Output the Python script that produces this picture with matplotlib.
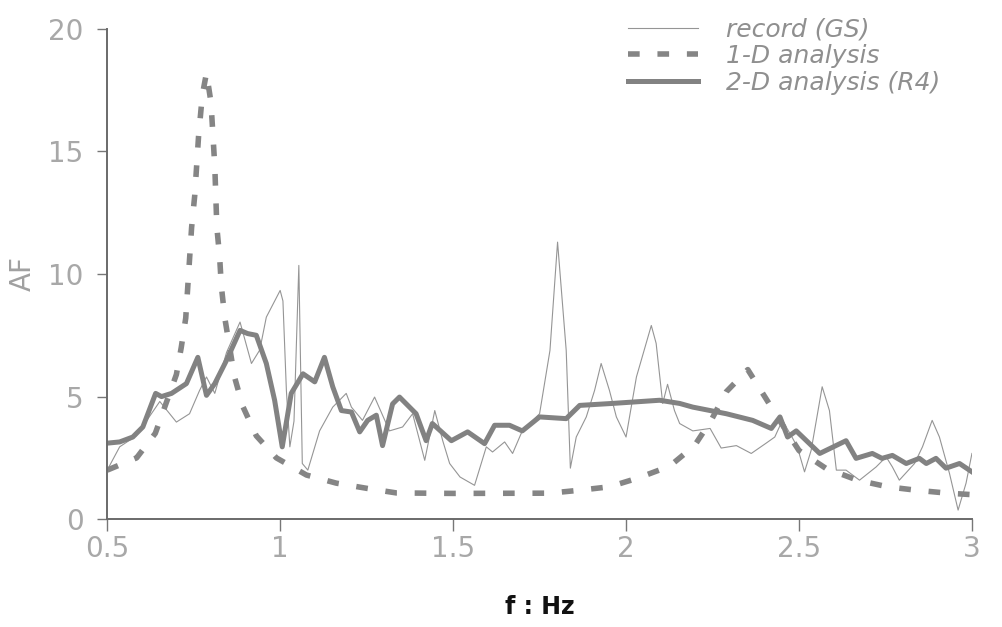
import numpy as np
import matplotlib.pyplot as plt

plt.rcParams['font.family'] = ['DejaVu Sans']

# recorded amplification (GS)
f_rec = [0.5, 0.536, 0.584, 0.652, 0.70, 0.738, 0.767, 0.787, 0.811, 0.845, 0.884,
         0.917, 0.941, 0.96, 1.0, 1.008, 1.018, 1.028, 1.04, 1.054, 1.064, 1.08,
         1.114, 1.152, 1.191, 1.206, 1.238, 1.273, 1.316, 1.354, 1.383, 1.418,
         1.447, 1.47, 1.49, 1.52, 1.562, 1.596, 1.614, 1.649, 1.672, 1.70, 1.75,
         1.78, 1.802, 1.827, 1.839, 1.856, 1.885, 1.909, 1.928, 1.952, 1.972, 2.0,
         2.03, 2.073, 2.087, 2.106, 2.12, 2.14, 2.155, 2.193, 2.243, 2.275, 2.319,
         2.362, 2.405, 2.43, 2.452, 2.477, 2.495, 2.516, 2.535, 2.567, 2.588,
         2.608, 2.636, 2.675, 2.723, 2.752, 2.77, 2.79, 2.834, 2.857, 2.885,
         2.906, 2.935, 2.96, 2.983, 3.0]
af_rec = [2.0, 2.95, 3.4, 4.8, 3.96, 4.3, 5.25, 5.8, 5.13, 6.8, 8.04,
          6.35, 6.9, 8.24, 9.33, 8.9, 5.25, 2.95, 4.0, 10.35, 2.27, 2.0,
          3.6, 4.57, 5.13, 4.57, 4.03, 4.98, 3.6, 3.76, 4.3, 2.4,
          4.43, 3.2, 2.27, 1.72, 1.38, 2.95, 2.74, 3.15, 2.68, 3.6, 4.3,
          6.88, 11.3, 6.88, 2.08, 3.35, 4.17, 5.25, 6.35, 5.25, 4.17, 3.35,
          5.8, 7.9, 7.17, 4.72, 5.5, 4.43, 3.9, 3.6, 3.7, 2.9, 3.0,
          2.68, 3.1, 3.35, 4.03, 3.42, 2.95, 1.93, 2.8, 5.4, 4.43,
          2.0, 2.0, 1.59, 2.13, 2.54, 2.13, 1.59, 2.27, 2.95, 4.03,
          3.35, 1.87, 0.37, 1.47, 2.68]

# 1-D analysis
f_1d = [0.5, 0.585, 0.639, 0.70, 0.714, 0.727, 0.744, 0.753, 0.764, 0.775, 0.787,
        0.80, 0.811, 0.817, 0.825, 0.83, 0.84, 0.868, 0.892, 0.931, 0.989, 1.076,
        1.162, 1.249, 1.336, 1.5, 1.779, 1.866, 1.952, 2.033, 2.126, 2.198,
        2.246, 2.29, 2.352, 2.404, 2.445, 2.50, 2.578, 2.669, 2.756, 2.839,
        2.93, 3.0]
af_1d = [2.0, 2.5, 3.5, 5.9, 7.0, 8.2, 11.9, 13.2, 15.6, 17.3, 18.2,
         17.0, 14.4, 11.9, 10.7, 9.5, 8.2, 5.8, 4.6, 3.4, 2.5, 1.8,
         1.47, 1.26, 1.07, 1.05, 1.06, 1.18, 1.32, 1.67, 2.16, 3.0,
         4.03, 5.2, 6.1, 4.93, 4.0, 2.8, 2.07, 1.59, 1.32, 1.18,
         1.06, 1.0]

# 2-D analysis (R4)
f_2d = [0.5, 0.536, 0.574, 0.603, 0.64, 0.657, 0.686, 0.729, 0.762, 0.787, 0.811,
        0.845, 0.884, 0.906, 0.931, 0.96, 0.984, 1.006, 1.032, 1.066, 1.1, 1.128,
        1.152, 1.177, 1.206, 1.23, 1.253, 1.278, 1.296, 1.325, 1.345, 1.393,
        1.422, 1.44, 1.495, 1.542, 1.591, 1.62, 1.663, 1.70, 1.75, 1.827, 1.866,
        1.96, 2.097, 2.155, 2.193, 2.29, 2.366, 2.42, 2.445, 2.467, 2.492, 2.56,
        2.636, 2.665, 2.712, 2.74, 2.77, 2.81, 2.848, 2.868, 2.896, 2.925,
        2.964, 3.0]
af_2d = [3.1, 3.15, 3.35, 3.76, 5.13, 5.0, 5.13, 5.53, 6.6, 5.05, 5.53,
         6.48, 7.7, 7.57, 7.5, 6.35, 4.85, 2.95, 5.13, 5.93, 5.6, 6.6,
         5.4, 4.43, 4.37, 3.56, 4.03, 4.24, 3.0, 4.7, 4.98, 4.3,
         3.2, 3.9, 3.2, 3.56, 3.08, 3.83, 3.83, 3.6, 4.17, 4.1, 4.64,
         4.72, 4.85, 4.72, 4.57, 4.3, 4.03, 3.7, 4.17, 3.35, 3.6, 2.68,
         3.2, 2.48, 2.68, 2.48, 2.6, 2.27, 2.48, 2.27, 2.48, 2.08,
         2.27, 1.93]

xticks = [0.5, 1, 1.5, 2, 2.5, 3]
xticklabels = ['0.5', '1', '1.5', '2', '2.5', '3']
yticks = [0, 5, 10, 15, 20]

fig = plt.figure(figsize=(10.02, 6.27), dpi=100)
ax = fig.add_axes([0.107, 0.172, 0.863, 0.782])

ax.plot(f_rec, af_rec, color='#959595', lw=0.8, label='record (GS)')
ax.plot(f_1d, af_1d, color='#858585', lw=4.0, dashes=(2.1, 3.2),
        label='1-D analysis')
ax.plot(f_2d, af_2d, color='#828282', lw=3.6, solid_joinstyle='round',
        label='2-D analysis (R4)')

ax.set_xlim(0.5, 3)
ax.set_ylim(0, 20)
ax.set_xticks(xticks)
ax.set_xticklabels(xticklabels)
ax.set_yticks(yticks)

for s in ['top', 'right']:
    ax.spines[s].set_visible(False)
for s in ['left', 'bottom']:
    ax.spines[s].set_color('#6a6a6a')
    ax.spines[s].set_linewidth(1.4)

ax.tick_params(axis='both', colors='#777777', labelcolor='#a8a8a8',
               labelsize=20, width=1.0)
ax.tick_params(axis='x', length=8.5, pad=3)
ax.tick_params(axis='y', length=7, pad=10)

ax.set_xlabel('f : Hz', fontsize=17, fontweight='bold', color='#111111',
              labelpad=23)
ax.set_ylabel('AF', fontsize=20, color='#a0a0a0', labelpad=8)

leg = ax.legend(loc='upper left', bbox_to_anchor=(0.627, 0.972),
                bbox_transform=fig.transFigure, frameon=False,
                prop={'style': 'italic', 'size': 18}, handlelength=2.8,
                handletextpad=1.1, labelspacing=0.1, borderaxespad=0,
                borderpad=0)
for t in leg.get_texts():
    t.set_color('#8f8f8f')

fig.savefig('out.png', dpi=100)
